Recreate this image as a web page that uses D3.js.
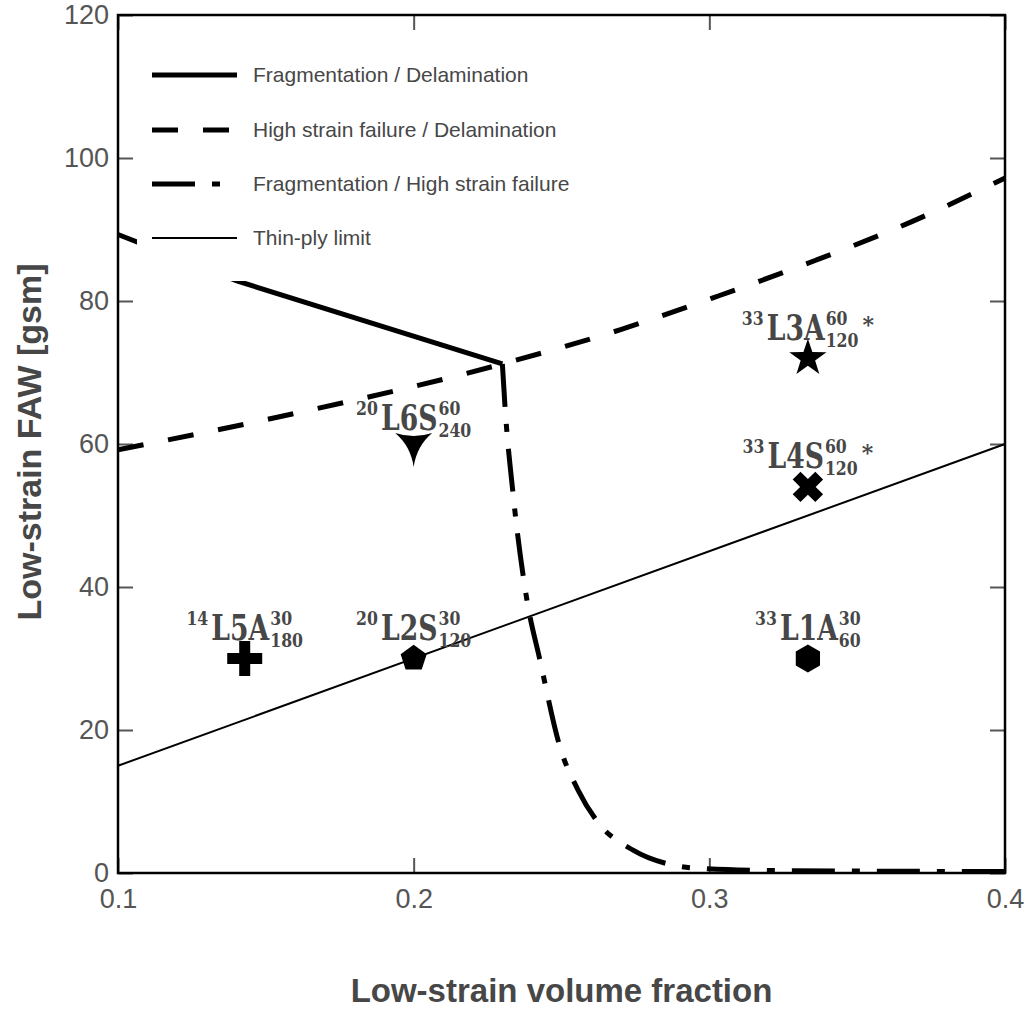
<!DOCTYPE html>
<html>
<head>
<meta charset="utf-8">
<script src="https://cdn.jsdelivr.net/npm/d3@7"></script>
<style>
  html, body { margin: 0; padding: 0; background: #fff; }
  svg { display: block; }
</style>
</head>
<body>
<svg id="chart" width="1027" height="1012"></svg>
<script>
// ---------------- data ----------------
const xTicks = [0.1, 0.2, 0.3, 0.4];
const yTicks = [0, 20, 40, 60, 80, 100, 120];

// boundary curves [low-strain volume fraction, FAW]
const fragDelam = [[0.1, 89.3], [0.1402, 82.8], [0.23, 71.2]];
const highDelam = [[0.1, 59.2], [0.15, 63.4], [0.23, 71.2], [0.27, 76.0], [0.303, 80.7],
                   [0.336, 85.7], [0.3685, 91.1], [0.3915, 95.5], [0.4, 97.2]];
const fragHigh = [[0.23, 71.2], [0.2309, 65.2], [0.2336, 53.1], [0.2383, 38.2], [0.2427, 29.8],
                  [0.2495, 17.6], [0.2556, 11.6], [0.2623, 7.1], [0.2742, 3.2], [0.2867, 1.2],
                  [0.2945, 0.7], [0.32, 0.35], [0.36, 0.25], [0.4, 0.2]];
const thinPly = [[0.1, 15], [0.4, 60]];

// laminates
const pointX = [1/7, 0.2, 1/3, 0.2, 1/3, 1/3];
const pointY = [30, 30, 30, 60, 54, 72];
const pointShape = ["plus", "pentagon", "hexagon", "tri", "x", "star"];
const labelPre = ["14", "20", "33", "20", "33", "33"];
const labelMain = ["L5A", "L2S", "L1A", "L6S", "L4S", "L3A"];
const labelSup = ["30", "30", "30", "60", "60", "60"];
const labelSub = ["180", "120", "60", "240", "120", "120"];
const labelStar = [false, false, false, false, true, true];

const legendNames = ["Fragmentation / Delamination", "High strain failure / Delamination",
                     "Fragmentation / High strain failure", "Thin-ply limit"];

// ---------------- layout ----------------
const svg = d3.select("#chart");
const L = 118, T = 15, R = 1005, B = 873;
const x = d3.scaleLinear().domain([0.1, 0.4]).range([L, R]);
const y = d3.scaleLinear().domain([0, 120]).range([B, T]);

const tickColor = "#555";
const textColor = "#474747";
const sans = "'Liberation Sans', Arial, Helvetica, sans-serif";
const serif = "'DejaVu Serif', serif";

// axes (inward ticks on all sides)
function styleAxis(g) {
  g.select(".domain").remove();
  g.selectAll(".tick line").attr("stroke", tickColor).attr("stroke-width", 2);
  g.selectAll(".tick text").attr("fill", tickColor).style("font-family", sans).style("font-size", "27px");
}
svg.append("g").attr("transform", `translate(0,${B})`)
  .call(d3.axisBottom(x).tickValues(xTicks).tickFormat(d3.format(".1f")).tickSize(-15).tickPadding(16))
  .call(styleAxis);
svg.append("g").attr("transform", `translate(0,${T})`)
  .call(d3.axisTop(x).tickValues(xTicks).tickFormat("").tickSize(-15))
  .call(styleAxis);
svg.append("g").attr("transform", `translate(${L},0)`)
  .call(d3.axisLeft(y).tickValues(yTicks).tickFormat(d3.format("d")).tickSize(-15).tickPadding(9))
  .call(styleAxis);
svg.append("g").attr("transform", `translate(${R},0)`)
  .call(d3.axisRight(y).tickValues(yTicks).tickFormat("").tickSize(-15))
  .call(styleAxis);

// curves
const lineLin = d3.line().x(d => x(d[0])).y(d => y(d[1]));
const lineSmooth = d3.line().x(d => x(d[0])).y(d => y(d[1])).curve(d3.curveMonotoneX);

const styles = [
  { w: 5, dash: null },
  { w: 5, dash: "26,25" },
  { w: 5, dash: "43,17,8,17" },
  { w: 2, dash: null }
];

svg.append("path").datum(thinPly).attr("d", lineLin)
  .attr("fill", "none").attr("stroke", "#000").attr("stroke-width", styles[3].w);
svg.append("path").datum(highDelam).attr("d", lineSmooth)
  .attr("fill", "none").attr("stroke", "#000").attr("stroke-width", styles[1].w)
  .attr("stroke-dasharray", styles[1].dash);
svg.append("path").datum(fragHigh).attr("d", lineSmooth)
  .attr("fill", "none").attr("stroke", "#000").attr("stroke-width", styles[2].w)
  .attr("stroke-dasharray", styles[2].dash);
svg.append("path").datum(fragDelam).attr("d", lineLin)
  .attr("fill", "none").attr("stroke", "#000").attr("stroke-width", styles[0].w)
  .attr("stroke-linejoin", "miter");

// markers
function markerPath(shape) {
  const p = d3.path();
  if (shape === "plus" || shape === "x") {
    const a = shape === "plus" ? 17.5 : 16, t = 5.5;
    const pts = [[-t,-a],[t,-a],[t,-t],[a,-t],[a,t],[t,t],[t,a],[-t,a],[-t,t],[-a,t],[-a,-t],[-t,-t]];
    const ang = shape === "x" ? Math.PI / 4 : 0;
    pts.forEach((q, i) => {
      const xx = q[0] * Math.cos(ang) - q[1] * Math.sin(ang);
      const yy = q[0] * Math.sin(ang) + q[1] * Math.cos(ang);
      i ? p.lineTo(xx, yy) : p.moveTo(xx, yy);
    });
    p.closePath();
  } else if (shape === "pentagon" || shape === "hexagon") {
    const n = shape === "pentagon" ? 5 : 6, r = shape === "pentagon" ? 13.7 : 14;
    for (let i = 0; i < n; i++) {
      const a = -Math.PI / 2 + i * 2 * Math.PI / n;
      i ? p.lineTo(r * Math.cos(a), r * Math.sin(a)) : p.moveTo(r * Math.cos(a), r * Math.sin(a));
    }
    p.closePath();
  } else if (shape === "star") {
    const ro = 19.5, ri = ro * 0.39;
    for (let i = 0; i < 10; i++) {
      const r = i % 2 ? ri : ro;
      const a = -Math.PI / 2 + i * Math.PI / 5;
      i ? p.lineTo(r * Math.cos(a), r * Math.sin(a)) : p.moveTo(r * Math.cos(a), r * Math.sin(a));
    }
    p.closePath();
  } else if (shape === "tri") {
    p.moveTo(-18.5, -11);
    p.quadraticCurveTo(0, -5, 18.5, -11);
    p.quadraticCurveTo(3, 2, 0, 23);
    p.quadraticCurveTo(-3, 2, -18.5, -11);
    p.closePath();
  }
  return p.toString();
}

const pts = pointX.map((v, i) => i);
svg.append("g").selectAll("path").data(pts).join("path")
  .attr("transform", i => `translate(${x(pointX[i])},${y(pointY[i])})`)
  .attr("d", i => markerPath(pointShape[i]))
  .attr("fill", "#000");

// labels
const mainSize = 36, smallSize = 18.5, mainScale = 0.74, smallScale = 0.85;
function small(g, txt, xx, yy) {
  const t = g.append("g").attr("transform", `translate(${xx},${yy}) scale(${smallScale},1)`)
    .append("text").text(txt)
    .style("font-family", serif).style("font-size", smallSize + "px").style("font-weight", "bold")
    .attr("fill", textColor);
  return t.node().getComputedTextLength() * smallScale;
}
pts.forEach(i => {
  const g = svg.append("g");
  let cx = small(g, labelPre[i], 0, -15) + 3;
  const mg = g.append("g").attr("transform", `translate(${cx},0) scale(${mainScale},1)`);
  const main = mg.append("text").text(labelMain[i])
    .style("font-family", serif).style("font-size", mainSize + "px").style("font-weight", "bold")
    .attr("fill", textColor);
  cx += main.node().getComputedTextLength() * mainScale + 1;
  const w1 = small(g, labelSup[i], cx, -15);
  const w2 = small(g, labelSub[i], cx, 7);
  cx += Math.max(w1, w2);
  if (labelStar[i]) {
    const st = g.append("text").text("*").attr("x", cx + 4).attr("y", -8)
      .style("font-family", serif).style("font-size", "22px").style("font-weight", "bold")
      .attr("fill", textColor);
    cx += 4 + st.node().getComputedTextLength();
  }
  const off = pointShape[i] === "tri" ? -14 : -18.5;
  g.attr("transform", `translate(${x(pointX[i]) - cx / 2},${y(pointY[i]) + off})`);
});

// legend
const lg = svg.append("g");
lg.append("rect").attr("x", 137).attr("y", 40).attr("width", 480).attr("height", 241).attr("fill", "#fff");
const legRows = [75, 130, 184, 238];
legendNames.forEach((name, i) => {
  lg.append("line").attr("x1", 152).attr("x2", 237).attr("y1", legRows[i]).attr("y2", legRows[i])
    .attr("stroke", "#000").attr("stroke-width", styles[i].w)
    .attr("stroke-dasharray", styles[i].dash);
  lg.append("text").text(name).attr("x", 253).attr("y", legRows[i]).attr("dy", "0.35em")
    .style("font-family", sans).style("font-size", "21px").attr("fill", textColor);
});

// frame
svg.append("rect").attr("x", L).attr("y", T).attr("width", R - L).attr("height", B - T)
  .attr("fill", "none").attr("stroke", "#000").attr("stroke-width", 2.5);

// axis titles
svg.append("text").text("Low-strain volume fraction")
  .attr("x", (L + R) / 2).attr("y", 1002).attr("text-anchor", "middle")
  .style("font-family", sans).style("font-size", "33px").style("font-weight", "bold").attr("fill", textColor);
svg.append("text").text("Low-strain FAW [gsm]")
  .attr("transform", `translate(41,${(T + B) / 2 - 2}) rotate(-90)`).attr("text-anchor", "middle")
  .style("font-family", sans).style("font-size", "34px").style("font-weight", "bold").attr("fill", textColor);
</script>
</body>
</html>
